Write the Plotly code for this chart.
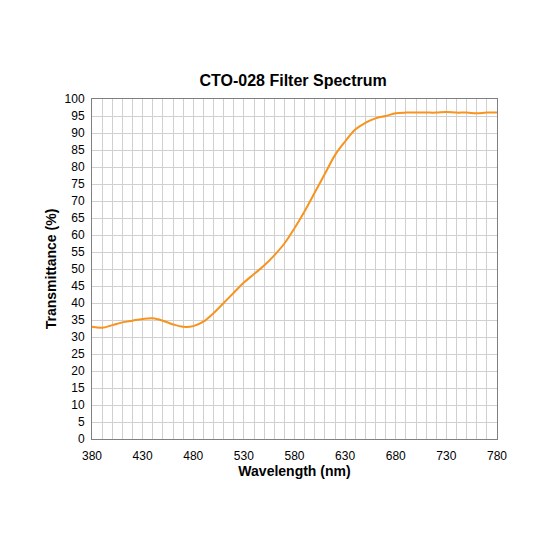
import plotly.graph_objects as go

wavelength = list(range(380, 790, 10))
transmittance = [33.0, 32.7, 33.5, 34.3, 34.8, 35.3, 35.5, 34.8, 33.7, 33.0,
                 33.2, 34.5, 37.0, 40.0, 43.0, 46.0, 48.5, 51.0, 54.0, 57.5,
                 62.0, 67.0, 72.5, 78.0, 83.5, 87.5, 91.0, 93.0, 94.3, 95.0,
                 95.8, 96.0, 96.0, 96.0, 96.0, 96.2, 96.0, 96.0, 95.8, 96.0, 96.0]

FONT = "Liberation Sans, Arial, sans-serif"

fig = go.Figure(go.Scatter(
    x=wavelength, y=transmittance, mode="lines",
    line=dict(color="#F7931E", width=2), line_shape="spline",
))

fig.update_layout(
    width=533, height=533,
    title=dict(text="<b>CTO-028 Filter Spectrum</b>", x=0.535, y=0.875,
               xanchor="center", font=dict(family=FONT, size=16, color="black")),
    font=dict(family=FONT, size=12, color="black"),
    plot_bgcolor="white", paper_bgcolor="white",
    margin=dict(l=84, r=44, t=91, b=102),
    showlegend=False,
)
fig.update_xaxes(
    range=[380, 780], tickvals=list(range(380, 781, 50)), automargin=False,
    ticklabelstandoff=6,
    minor=dict(dtick=10, tick0=380, showgrid=True, gridcolor="#D0D0D0"),
    showgrid=True, gridcolor="#D0D0D0", zeroline=False,
    showline=True, linecolor="#808080", mirror=True,
    title=dict(text="<b>Wavelength (nm)</b>", font=dict(size=14), standoff=2),
)
fig.update_yaxes(
    range=[0, 100], dtick=5, automargin=False, ticklabelstandoff=4,
    showgrid=True, gridcolor="#D0D0D0", zeroline=False,
    showline=True, linecolor="#808080", mirror=True,
    title=dict(text="<b>Transmittance (%)</b>", font=dict(size=14), standoff=4),
)

fig.write_html("out.html")
